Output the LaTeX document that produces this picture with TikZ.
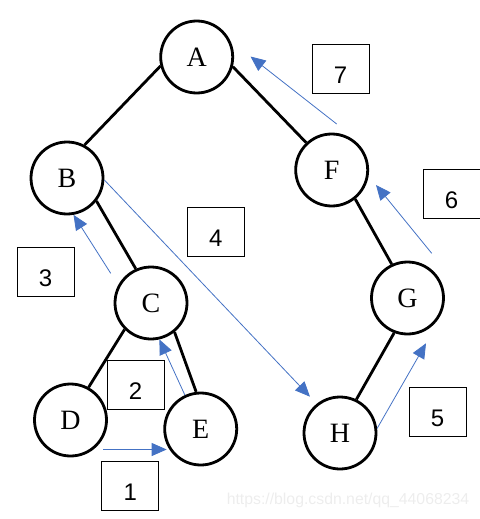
\documentclass[tikz,border=0pt]{standalone}
\usepackage{fontspec}
\setmainfont{Liberation Serif}
\newfontfamily\numfont{Liberation Sans}
\usetikzlibrary{arrows.meta}
\definecolor{arrowblue}{HTML}{4472C4}
\tikzset{
  treenode/.style={circle, draw=black, line width=2.8pt, minimum size=72pt, inner sep=0pt, font=\fontsize{28}{28}\selectfont},
  treeedge/.style={draw=black, line width=2.8pt},
  numbox/.style={draw=black, line width=0.9pt, minimum width=57pt, minimum height=49pt, inner sep=0pt, text height=29pt, text depth=0pt, font=\numfont\fontsize{24}{24}\selectfont},
  movearrow/.style={draw=arrowblue, line width=0.8pt, -{Triangle[length=15pt,width=13pt]}},
}
\begin{document}
\begin{tikzpicture}[x=1pt,y=-1pt]
\useasboundingbox (0,0) rectangle (479,519);
% tree nodes
\node[treenode] (A) at (196.7,57) {A};
\node[treenode] (B) at (67,178) {B};
\node[treenode] (C) at (151,303) {C};
\node[treenode] (D) at (70.5,420) {D};
\node[treenode] (E) at (200.7,429) {E};
\node[treenode] (F) at (331.7,170) {F};
\node[treenode] (G) at (407.5,298) {G};
\node[treenode] (H) at (340,433) {H};
% tree edges
\draw[treeedge] (A.194.5) -- (B.62.4);
\draw[treeedge] (A.-15) -- (F.133);
\draw[treeedge] (B.-38) -- (C.114.7);
\draw[treeedge] (C.-135.7) -- (D.61.4);
\draw[treeedge] (C.-51.6) -- (E.97);
\draw[treeedge] (F.-51.5) -- (G.115);
\draw[treeedge] (G.-111) -- (H.64);
% number boxes
\node[numbox] (n1) at (130.2,486) {1};
\node[numbox] (n2) at (135.5,384.5) {2};
\node[numbox] (n3) at (45.5,271.5) {3};
\node[numbox] (n4) at (215.8,232) {4};
\node[numbox] (n5) at (437.5,412) {5};
\node[numbox] (n6) at (451.5,194) {6};
\node[numbox] (n7) at (340.5,68.5) {7};
% free ends of the traversal arrows
\coordinate (s1) at (103,449.5);
\coordinate (t1) at (166.7,449.5);
\coordinate (s3) at (110.7,273.3);
\coordinate (t4) at (310,396.7);
\coordinate (t5) at (426,343.3);
\coordinate (s6) at (431.7,253.3);
\coordinate (t6) at (376,185);
\coordinate (s7) at (336.7,124);
\coordinate (t7) at (250.5,56.5);
% traversal arrows
\draw[movearrow] (s1) -- (t1);
\draw[movearrow] (E.115) -- (C.-77);
\draw[movearrow] (s3) -- (B.-80);
\draw[movearrow] (B.-3) -- (t4);
\draw[movearrow] (H.7) -- (t5);
\draw[movearrow] (s6) -- (t6);
\draw[movearrow] (s7) -- (t7);
% watermark
\node[text=black!7, font=\numfont\fontsize{15.8}{16}\selectfont, inner sep=0pt] (wm) at (348,500.5) {https://blog.csdn.net/qq\_44068234};
\end{tikzpicture}
\end{document}
